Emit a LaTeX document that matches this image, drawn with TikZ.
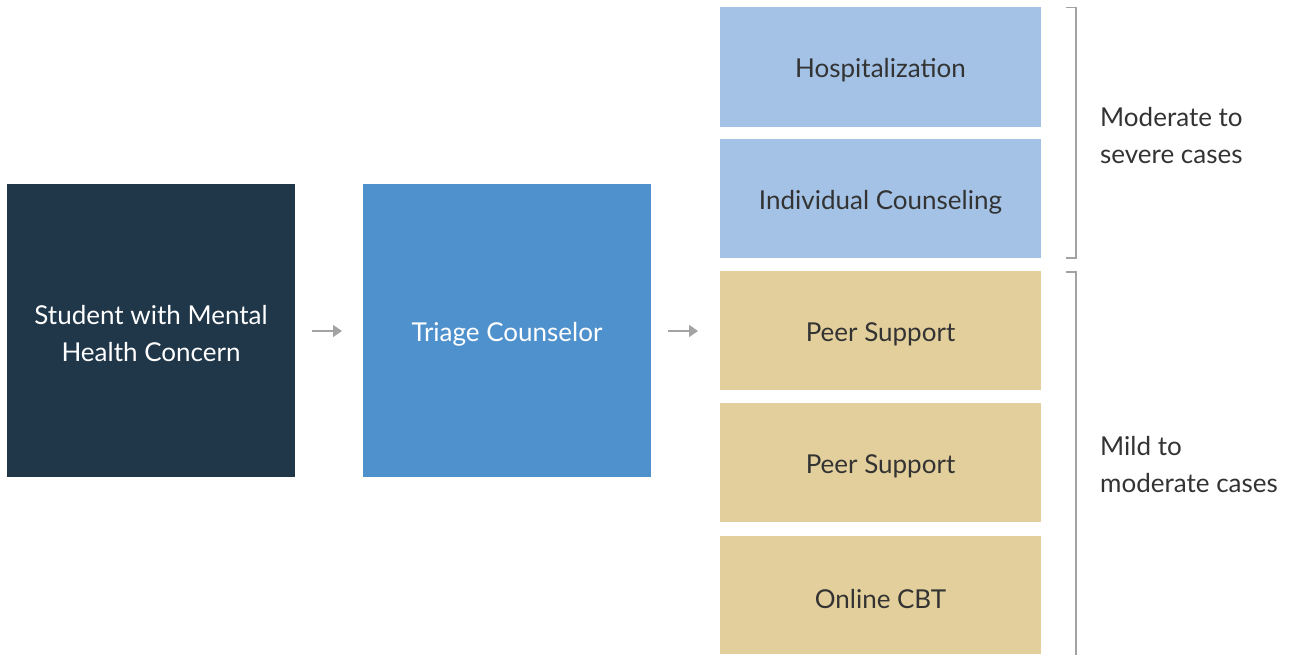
\documentclass[tikz,border=0pt]{standalone}
\usepackage{fontspec}
\setmainfont{Lato}
\usetikzlibrary{arrows.meta}
\definecolor{dark}{HTML}{203649}
\definecolor{midblue}{HTML}{4F91CD}
\definecolor{lightblue}{HTML}{A3C2E5}
\definecolor{tan}{HTML}{E3CF9B}
\definecolor{txt}{HTML}{333333}
\definecolor{arr}{HTML}{A3A3A3}
\tikzset{
  box/.style={draw=none, inner sep=0pt, align=center, font=\fontsize{26}{37}\selectfont},
  conn/.style={draw=arr, line width=1.5pt, -{Triangle[length=9pt,width=12pt]}},
  brk/.style={draw=arr, line width=1.5pt},
  lbl/.style={anchor=west, align=left, text=txt, inner sep=0pt, font=\fontsize{26}{37}\selectfont}
}
\begin{document}
\begin{tikzpicture}[x=1pt,y=-1pt]
\useasboundingbox (0,0) rectangle (1292,654);
\fill[dark] (7,184) rectangle (295,477);
\node[box,text=white] (student) at (151,334) {Student with Mental\\Health Concern};
\fill[midblue] (363,184) rectangle (651,477);
\node[box,text=white] (triage) at (507,334) {Triage Counselor};
\fill[lightblue] (720,7) rectangle (1041,127);
\node[box,text=txt] (hosp) at (880.5,70) {Hospitalization};
\fill[lightblue] (720,139) rectangle (1041,258);
\node[box,text=txt] (indiv) at (880.5,202) {Individual Counseling};
\fill[tan] (720,271) rectangle (1041,390);
\node[box,text=txt] (peer1) at (880.5,334) {Peer Support};
\fill[tan] (720,403) rectangle (1041,522);
\node[box,text=txt] (peer2) at (880.5,466) {Peer Support};
\fill[tan] (720,536) rectangle (1041,654);
\node[box,text=txt] (cbt) at (880.5,599) {Online CBT};
\coordinate (a1s) at (312,331);
\coordinate (a1e) at (342,331);
\coordinate (a2s) at (668,331);
\coordinate (a2e) at (698,331);
\draw[conn] (a1s) -- (a1e);
\draw[conn] (a2s) -- (a2e);
\draw[brk] (1066,7.5) -- (1076,7.5) -- (1076,258) -- (1066,258);
\draw[brk] (1066,272) -- (1076,272) -- (1076,660);
\node[lbl] (sev) at (1100,135.5) {Moderate to\\severe cases};
\node[lbl] (mild) at (1100,465) {Mild to\\moderate cases};
\end{tikzpicture}
\end{document}
